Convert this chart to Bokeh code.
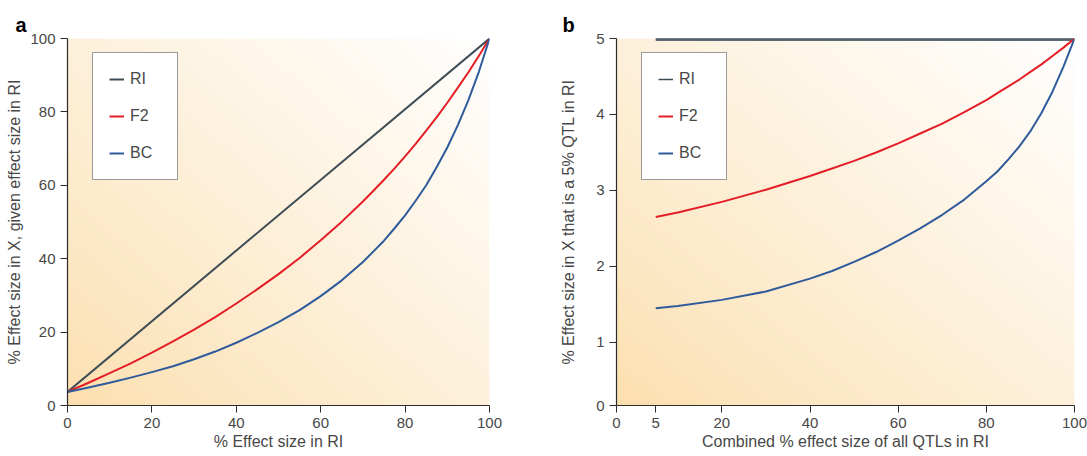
import numpy as np
from bokeh.plotting import figure
from bokeh.models import Legend, LegendItem, FixedTicker
from bokeh.layouts import row
from bokeh.embed import file_html
from bokeh.resources import INLINE

# ---------------- data: panel a ----------------
a_x = [0, 5, 10, 15, 20, 25, 30, 35, 40, 45, 50, 55, 60, 65, 70, 72.5, 75, 77.5, 80,
       82.5, 85, 87.5, 90, 92.5, 95, 97.5, 100]
a_f2 = [3.7, 6.2, 8.8, 11.5, 14.4, 17.5, 20.7, 24.1, 27.8, 31.7, 35.8, 40.2, 45.0, 50.1,
        55.6, 58.5, 61.5, 64.6, 67.9, 71.3, 74.9, 78.6, 82.5, 86.6, 90.8, 95.3, 100]
a_bc = [3.7, 4.9, 6.2, 7.6, 9.1, 10.7, 12.6, 14.7, 17.1, 19.8, 22.7, 26.0, 29.8, 34.1,
        39.1, 42.0, 44.9, 48.3, 51.8, 55.8, 60.0, 65.0, 70.3, 76.4, 83.2, 91.0, 100]
a_ri_x = [0, 100]
a_ri = [3.7, 100]
a_ticks = [0, 20, 40, 60, 80, 100]

# ---------------- data: panel b ----------------
b_x = [5, 10, 20, 30, 40, 45, 50, 55, 60, 65, 70, 75, 80, 82.5, 85, 87.5, 90, 92.5, 95, 97.5, 100]
b_ri_x = [5, 100]
b_ri = [5, 5]
b_f2 = [2.65, 2.71, 2.85, 3.01, 3.19, 3.29, 3.39, 3.50, 3.62, 3.75, 3.88, 4.03, 4.19,
        4.28, 4.37, 4.46, 4.56, 4.66, 4.77, 4.88, 5.0]
b_bc = [1.45, 1.48, 1.56, 1.67, 1.84, 1.94, 2.06, 2.19, 2.34, 2.50, 2.68, 2.88, 3.12,
        3.25, 3.41, 3.58, 3.78, 4.02, 4.30, 4.63, 5.0]
# broken-axis style: the "0" tick sits at the axis start
b_xticks = [-3.9, 5, 20, 40, 60, 80, 100]
b_xlabels = ["0", "5", "20", "40", "60", "80", "100"]
b_yticks = [0.17, 1, 2, 3, 4, 5]
b_ylabels = ["0", "1", "2", "3", "4", "5"]

series_names = ["RI", "F2", "BC"]
colors = {"RI": "#3e4c56", "F2": "#e31e26", "BC": "#2f5b9c"}
RI_B_COLOR = "#5d6973"

FONT = "Liberation Sans"
TXT = "#474747"


def gradient(n=200, m=200):
    u = np.linspace(0, 1, m)[None, :]
    v = np.linspace(0, 1, n)[:, None]
    t = np.clip((u + v) / 2.0, 0, 1) ** 0.85
    c0 = np.array([252, 223, 174])
    r = (c0[0] + (255 - c0[0]) * t).astype(np.uint32)
    g = (c0[1] + (255 - c0[1]) * t).astype(np.uint32)
    b = (c0[2] + (255 - c0[2]) * t).astype(np.uint32)
    img = (255 << 24) | (b << 16) | (g << 8) | r
    return img.astype(np.uint32)


def style(p, letter, offset):
    p.outline_line_color = None
    p.grid.visible = False
    p.background_fill_color = "white"
    p.border_fill_color = "white"
    for ax in (p.xaxis[0], p.yaxis[0]):
        ax.axis_line_color = "#2b2b2b"
        ax.axis_line_width = 1.2
        ax.major_tick_line_color = "#2b2b2b"
        ax.major_tick_out = 7
        ax.major_tick_in = 0
        ax.minor_tick_line_color = None
        ax.major_label_text_font = FONT
        ax.major_label_text_font_size = "15px"
        ax.major_label_text_color = TXT
        ax.axis_label_text_font = FONT
        ax.axis_label_text_font_size = "16px"
        ax.axis_label_text_font_style = "normal"
        ax.axis_label_text_color = TXT
        ax.major_label_standoff = 5
    p.title.text = letter
    p.title.align = "left"
    p.title.offset = offset
    p.title.standoff = 6
    p.title.text_font = FONT
    p.title.text_font_size = "20px"
    p.title.text_font_style = "bold"
    p.title.text_color = "black"


def add_legend(p, renderers):
    items = [LegendItem(label=n, renderers=[r]) for n, r in zip(series_names, renderers)]
    lg = Legend(items=items, location=(25, 225), padding=16, spacing=17,
                glyph_height=20, glyph_width=15, label_height=20, label_width=31,
                label_standoff=6, margin=0,
                label_text_font=FONT, label_text_font_size="16px", label_text_color=TXT,
                border_line_color="#333333", border_line_width=1,
                background_fill_color="white", background_fill_alpha=1.0)
    p.add_layout(lg, "center")


# ---------------- panel a ----------------
pa = figure(width=540, height=454, x_range=(0, 100), y_range=(0, 100),
            output_backend="svg", toolbar_location=None,
            min_border_left=67, min_border_right=51, min_border_top=38, min_border_bottom=49)
style(pa, "a", -52)
pa.image_rgba(image=[gradient()], x=0, y=0, dw=100, dh=100)
ra = pa.line(a_ri_x, a_ri, line_color=colors["RI"], line_width=2)
fa = pa.line(a_x, a_f2, line_color=colors["F2"], line_width=2, line_join="round")
ba = pa.line(a_x, a_bc, line_color=colors["BC"], line_width=2, line_join="round")
pa.xaxis.ticker = FixedTicker(ticks=a_ticks)
pa.yaxis.ticker = FixedTicker(ticks=a_ticks)
pa.xaxis.axis_label = "% Effect size in RI"
pa.yaxis.axis_label = "% Effect size in X, given effect size in RI"
pa.xaxis.axis_label_standoff = 2
pa.yaxis.axis_label_standoff = 4
add_legend(pa, [ra, fa, ba])

# ---------------- panel b ----------------
xb0, yb0 = b_xticks[0], b_yticks[0]
pb = figure(width=547, height=454, x_range=(xb0, 100), y_range=(yb0, 5),
            output_backend="svg", toolbar_location=None,
            min_border_left=76, min_border_right=13, min_border_top=38, min_border_bottom=47)
style(pb, "b", -54)
pb.image_rgba(image=[gradient()], x=xb0, y=yb0, dw=100 - xb0, dh=5 - yb0)
pb.line(b_ri_x, b_ri, line_color=RI_B_COLOR, line_width=5)          # edge line (half clipped)
rb = pb.line(b_ri_x, b_ri, line_color=colors["RI"], line_width=1.5)  # thin overlay for legend
fb = pb.line(b_x, b_f2, line_color=colors["F2"], line_width=2, line_join="round")
bb = pb.line(b_x, b_bc, line_color=colors["BC"], line_width=2, line_join="round")
pb.xaxis.ticker = FixedTicker(ticks=b_xticks)
pb.yaxis.ticker = FixedTicker(ticks=b_yticks)
pb.xaxis.major_label_overrides = {t: l for t, l in zip(b_xticks, b_xlabels)}
pb.yaxis.major_label_overrides = {t: l for t, l in zip(b_yticks, b_ylabels)}
pb.xaxis.axis_label = "Combined % effect size of all QTLs in RI"
pb.yaxis.axis_label = "% Effect size in X that is a 5% QTL in RI"
pb.xaxis.axis_label_standoff = 2
pb.yaxis.axis_label_standoff = 16
add_legend(pb, [rb, fb, bb])

layout = row(pa, pb)
open("out.html", "w").write(file_html(layout, INLINE))
